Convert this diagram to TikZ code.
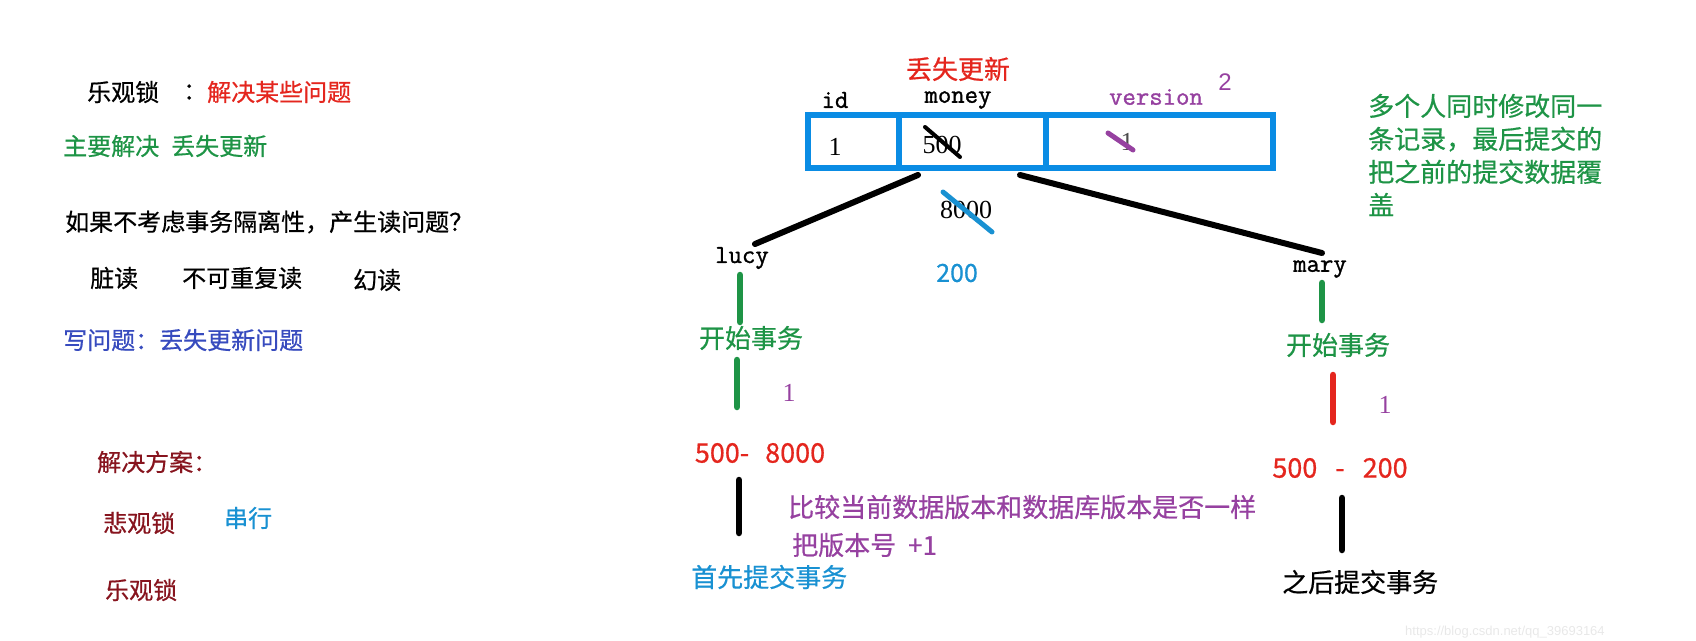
\documentclass[tikz,border=0pt]{standalone}
\usepackage{fontspec}
\setmainfont{Liberation Serif}
\newfontfamily\cjk[FakeBold=0.6]{Noto Sans CJK SC}
\newfontfamily\mono[FakeBold=1.2]{Latin Modern Mono}
\newfontfamily\sans{Liberation Sans}
\definecolor{cred}{RGB}{228,38,30}
\definecolor{cgreen}{RGB}{30,148,70}
\definecolor{cblue}{RGB}{55,75,190}
\definecolor{cdark}{RGB}{135,20,30}
\definecolor{ccyan}{RGB}{25,145,210}
\definecolor{cpurple}{RGB}{150,65,160}
\definecolor{ctable}{RGB}{10,140,228}
\definecolor{cwm}{RGB}{232,232,232}
\tikzset{
  zh/.style={inner sep=0pt, font=\cjk\fontsize{24}{28}\selectfont},
  zhb/.style={inner sep=0pt, font=\cjk\fontsize{26}{30}\selectfont},
  mn/.style={inner sep=0pt, font=\mono\fontsize{26}{30}\selectfont},
  num/.style={inner sep=0pt, font=\fontsize{26}{30}\selectfont},
  cell/.style={draw=ctable, line width=6pt, minimum height=53pt, inner sep=0pt},
  bar/.style={line width=6.5pt, line cap=round},
  tie/.style={line width=6pt, line cap=round, black},
  strike/.style={line width=5pt, line cap=round},
}
\begin{document}
\begin{tikzpicture}[x=1pt,y=-1pt]
\useasboundingbox (0,0) rectangle (1696,640);
% left column
\node[zh, anchor=west] (t1) at (87,92) {乐观锁};
\node[zh, anchor=west] (t1c) at (183,92) {：};
\node[zh, anchor=west, text=cred] (t1b) at (207,92) {解决某些问题};
\node[zh, anchor=west, text=cgreen] (t2) at (63,146) {主要解决\hspace{12pt}丢失更新};
\node[zh, anchor=west] (t3) at (65,222) {如果不考虑事务隔离性，产生读问题？};
\node[zh, anchor=west] (t4a) at (90,278) {脏读};
\node[zh, anchor=west] (t4b) at (182,278) {不可重复读};
\node[zh, anchor=west] (t4c) at (353,280) {幻读};
\node[zh, anchor=west, text=cblue] (t5) at (63,340) {写问题：丢失更新问题};
\node[zh, anchor=west, text=cdark] (t6) at (97,462) {解决方案：};
\node[zh, anchor=west, text=cdark] (t7) at (103,523) {悲观锁};
\node[zh, anchor=west, text=ccyan] (t7b) at (224,518) {串行};
\node[zh, anchor=west, text=cdark] (t8) at (105,590) {乐观锁};
% table
\node[zhb, text=cred] (lost) at (958,69) {丢失更新};
\node[mn] (hid) at (835,100) {id};
\node[mn] (hmoney) at (958,100) {money};
\node[mn, text=cpurple] (hver) at (1156,97) {version};
\node[inner sep=0pt, font=\sans\fontsize{24}{28}\selectfont, text=cpurple] (v2) at (1225,82) {2};
\node[cell, minimum width=91pt] (cid) at (853.5,141.5) {};
\node[cell, minimum width=147pt] (cmoney) at (972.5,141.5) {};
\node[cell, minimum width=227pt] (cver) at (1159.5,141.5) {};
\node[num] (vid) at (835,147) {1};
\node[num] (vmoney) at (942,145) {500};
\draw[strike, black, line width=4pt] (925,127) -- (960,157);
\node[num, text=black!70] (vver) at (1127,142) {1};
\draw[strike, cpurple] (1108,133) -- (1133,150);
\node[num] (v8000) at (966,210) {8000};
\draw[strike, ccyan] (943,192) -- (992,232);
\node[inner sep=0pt, font=\cjk\fontsize{25}{28}\selectfont, text=ccyan] (v200) at (957,273) {200};
\node[inner sep=0pt, anchor=west, text=cgreen, align=left, font=\cjk\fontsize{26}{30}\selectfont] (note) at (1368,155)
  {多个人同时修改同一\\[3pt]条记录，最后提交的\\[3pt]把之前的提交数据覆\\[3pt]盖};
% lucy branch
\node[mn] (lucy) at (742,258) {lucy};
\coordinate (tl) at (918,175);
\coordinate (tle) at (755,244);
\draw[tie] (tl) -- (tle);
\coordinate (l1a) at (740,275); \coordinate (l1b) at (740,322);
\draw[bar, cgreen] (l1a) -- (l1b);
\node[zhb, text=cgreen] (lstart) at (751,338) {开始事务};
\coordinate (l2a) at (737,360); \coordinate (l2b) at (737,407);
\draw[bar, cgreen] (l2a) -- (l2b);
\node[num, text=cpurple] (lv) at (789,393) {1};
\node[inner sep=0pt, font=\cjk\fontsize{27}{30}\selectfont, text=cred] (lcalc) at (760,453) {500-\hspace{16pt}8000};
\coordinate (l3a) at (739,480); \coordinate (l3b) at (739,533);
\draw[bar, black] (l3a) -- (l3b);
\node[zhb, anchor=west, text=cpurple] (cmp) at (788,507) {比较当前数据版本和数据库版本是否一样};
\node[zhb, anchor=west, text=cpurple] (inc) at (792,545) {把版本号\hspace{12pt}+1};
\node[zhb, anchor=west, text=ccyan] (lcommit) at (691,577) {首先提交事务};
% mary branch
\node[mn] (mary) at (1320,269) {mary};
\coordinate (tr) at (1020,175);
\coordinate (tre) at (1322,253);
\draw[tie] (tr) -- (tre);
\coordinate (m1a) at (1322,283); \coordinate (m1b) at (1322,320);
\draw[bar, cgreen] (m1a) -- (m1b);
\node[zhb, text=cgreen] (mstart) at (1338,345) {开始事务};
\coordinate (m2a) at (1333,375); \coordinate (m2b) at (1333,422);
\draw[bar, cred] (m2a) -- (m2b);
\node[num, text=cpurple] (mv) at (1385,405) {1};
\node[inner sep=0pt, font=\cjk\fontsize{27}{30}\selectfont, text=cred] (mcalc) at (1340,468) {500\hspace{18pt}-\hspace{18pt}200};
\coordinate (m3a) at (1342,498); \coordinate (m3b) at (1342,550);
\draw[bar, black] (m3a) -- (m3b);
\node[zhb, anchor=west] (mcommit) at (1282,582) {之后提交事务};
% watermark
\node[inner sep=0pt, anchor=west, font=\sans\fontsize{13}{15}\selectfont, text=cwm] (wm) at (1405,632) {https://blog.csdn.net/qq\_39693164};
\end{tikzpicture}
\end{document}
